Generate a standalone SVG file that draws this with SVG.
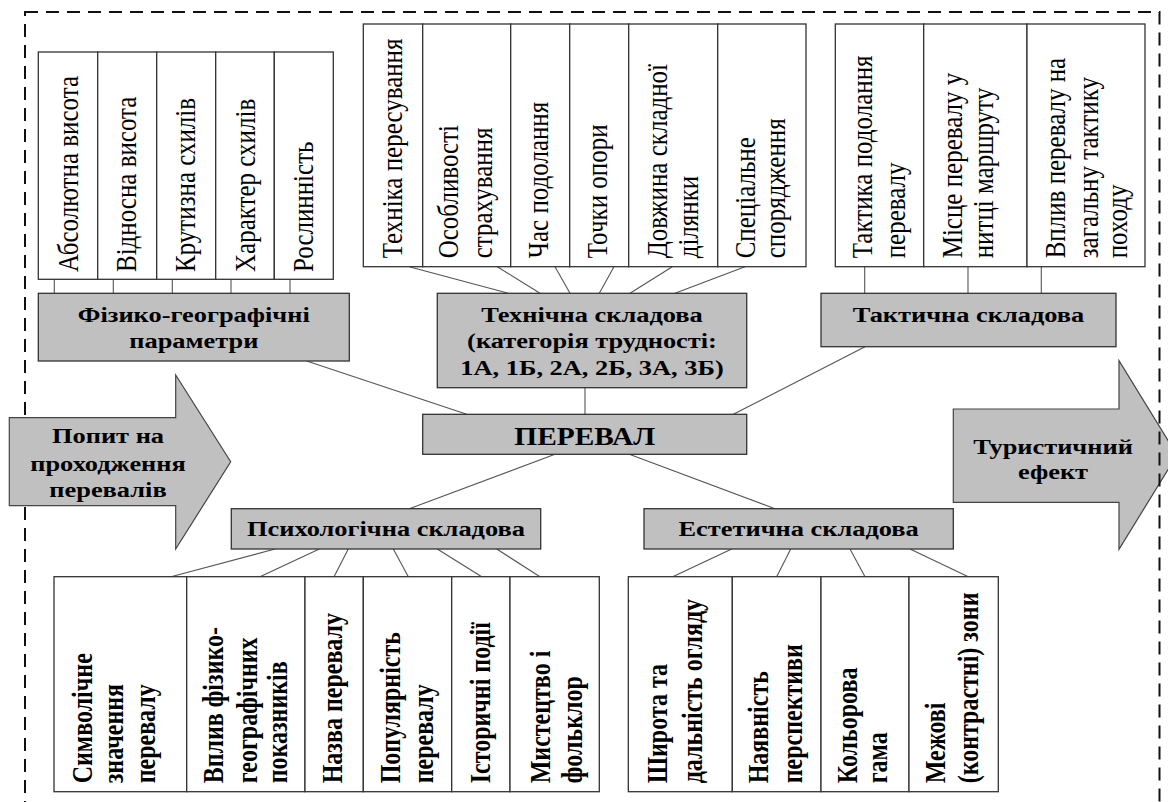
<svg xmlns="http://www.w3.org/2000/svg" width="1168" height="802" viewBox="0 0 1168 802">
<style>
.box{fill:#fff;stroke:#333;stroke-width:1.3}
.gbox{fill:#c0c0c0;stroke:#333;stroke-width:1.3}
.arr{fill:#c0c0c0;stroke:#444;stroke-width:1.2}
.c{stroke:#555;stroke-width:1.1;fill:none}
.t{font-family:"Liberation Serif","Times New Roman",serif;font-size:25px;fill:#000}
.tb{font-family:"Liberation Serif","Times New Roman",serif;font-size:24px;font-weight:bold;fill:#000}
.g{font-family:"Liberation Serif","Times New Roman",serif;font-size:22px;font-weight:bold;fill:#000;text-anchor:middle}
.border{fill:none;stroke:#111;stroke-width:2;stroke-dasharray:13 8}
</style>
<rect width="1168" height="802" fill="#fff"/>
<g id="arrow-effect">
<polygon class="arr" points="953.3,409 1119,409 1119,360.7 1177,455 1119,549.3 1119,502.3 953.3,502.3"/>
<text class="g" transform="translate(1053,454.3) scale(1.2,1)">Туристичний</text>
<text class="g" transform="translate(1053,479.3) scale(1.2,1)">ефект</text>
</g>
<rect id="frame" class="border" x="25" y="12" width="1134.5" height="810"/>
<g id="arrow-demand">
<polygon class="arr" points="9.3,417.7 175.7,417.7 175.7,375 230.7,461.7 175.7,549 175.7,505.7 9.3,505.7"/>
<text class="g" transform="translate(108,442.7) scale(1.2,1)">Попит на</text>
<text class="g" transform="translate(108,470.7) scale(1.2,1)">проходження</text>
<text class="g" transform="translate(108,497.3) scale(1.2,1)">перевалів</text>
</g>
<g id="connectors">
<line class="c" x1="54.3" y1="279.3" x2="54.3" y2="293.3"/>
<line class="c" x1="113.3" y1="279.3" x2="113.3" y2="293.3"/>
<line class="c" x1="172.3" y1="279.3" x2="172.3" y2="293.3"/>
<line class="c" x1="231" y1="279.3" x2="231" y2="293.3"/>
<line class="c" x1="290" y1="279.3" x2="290" y2="293.3"/>
<line class="c" x1="409.3" y1="266.7" x2="508.3" y2="293.3"/>
<line class="c" x1="497.3" y1="266.7" x2="540" y2="293.3"/>
<line class="c" x1="555" y1="266.7" x2="570" y2="293.3"/>
<line class="c" x1="614" y1="266.7" x2="599.3" y2="293.3"/>
<line class="c" x1="672.3" y1="266.7" x2="630" y2="293.3"/>
<line class="c" x1="745" y1="266.7" x2="675" y2="293.3"/>
<line class="c" x1="864.7" y1="266.7" x2="864.7" y2="293.3"/>
<line class="c" x1="968" y1="266.7" x2="968" y2="293.3"/>
<line class="c" x1="1041.3" y1="266.7" x2="1041.3" y2="293.3"/>
<line class="c" x1="306.7" y1="361" x2="466.7" y2="414.3"/>
<line class="c" x1="585" y1="387.7" x2="585" y2="414.3"/>
<line class="c" x1="865" y1="346.7" x2="733.3" y2="414.3"/>
<line class="c" x1="555" y1="454.3" x2="409.3" y2="508.7"/>
<line class="c" x1="629.3" y1="454.3" x2="775" y2="508.7"/>
<line class="c" x1="275" y1="549" x2="171" y2="576.7"/>
<line class="c" x1="319.3" y1="549" x2="260" y2="576.7"/>
<line class="c" x1="348.3" y1="549" x2="334" y2="576.7"/>
<line class="c" x1="393.3" y1="549" x2="408.3" y2="576.7"/>
<line class="c" x1="437.3" y1="549" x2="481.7" y2="576.7"/>
<line class="c" x1="496.7" y1="549" x2="540" y2="576.7"/>
<line class="c" x1="731.7" y1="549" x2="672.7" y2="576.7"/>
<line class="c" x1="790.7" y1="549" x2="776.7" y2="576.7"/>
<line class="c" x1="850" y1="549" x2="865" y2="576.7"/>
<line class="c" x1="910" y1="549" x2="968.3" y2="576.7"/>
</g>
<g id="phys-items">
<rect class="box" x="38.3" y="52" width="59.4" height="227.3"/>
<rect class="box" x="97.7" y="52" width="59" height="227.3"/>
<rect class="box" x="156.7" y="52" width="59" height="227.3"/>
<rect class="box" x="215.7" y="52" width="58.6" height="227.3"/>
<rect class="box" x="274.3" y="52" width="59" height="227.3"/>
<text class="t" transform="translate(78.3,272) scale(1.2,1) rotate(-90)">Абсолютна висота</text>
<text class="t" transform="translate(136,272) scale(1.2,1) rotate(-90)">Відносна висота</text>
<text class="t" transform="translate(195,272) scale(1.2,1) rotate(-90)">Крутизна схилів</text>
<text class="t" transform="translate(255,272) scale(1.2,1) rotate(-90)">Характер схилів</text>
<text class="t" transform="translate(313.3,272) scale(1.2,1) rotate(-90)">Рослинність</text>
</g>
<g id="phys">
<rect class="gbox" x="38.3" y="293.3" width="311" height="67.7"/>
<text class="g" transform="translate(193.8,321.7) scale(1.2,1)">Фізико-географічні</text>
<text class="g" transform="translate(193.8,348.3) scale(1.2,1)">параметри</text>
</g>
<g id="tech-items">
<rect class="box" x="363.3" y="24" width="59.4" height="242.7"/>
<rect class="box" x="422.7" y="24" width="88" height="242.7"/>
<rect class="box" x="510.7" y="24" width="59" height="242.7"/>
<rect class="box" x="569.7" y="24" width="59" height="242.7"/>
<rect class="box" x="628.7" y="24" width="89" height="242.7"/>
<rect class="box" x="717.7" y="24" width="88.3" height="242.7"/>
<text class="t" transform="translate(401.7,258.3) scale(1.2,1) rotate(-90)">Техніка пересування</text>
<text class="t" transform="translate(458.3,258.3) scale(1.2,1) rotate(-90)">Особливості</text>
<text class="t" transform="translate(491.7,258.3) scale(1.2,1) rotate(-90)">страхування</text>
<text class="t" transform="translate(548.3,258.3) scale(1.2,1) rotate(-90)">Час подолання</text>
<text class="t" transform="translate(606.7,258.3) scale(1.2,1) rotate(-90)">Точки опори</text>
<text class="t" transform="translate(666.7,258.3) scale(1.2,1) rotate(-90)">Довжина складної</text>
<text class="t" transform="translate(698.3,258.3) scale(1.2,1) rotate(-90)">ділянки</text>
<text class="t" transform="translate(755,258.3) scale(1.2,1) rotate(-90)">Спеціальне</text>
<text class="t" transform="translate(785,258.3) scale(1.2,1) rotate(-90)">спорядження</text>
</g>
<g id="tech">
<rect class="gbox" x="437.3" y="293.3" width="309.4" height="94.4"/>
<text class="g" transform="translate(592,321.7) scale(1.2,1)">Технічна складова</text>
<text class="g" transform="translate(592,348.3) scale(1.2,1)">(категорія трудності:</text>
<text class="g" transform="translate(592,375) scale(1.2,1)">1А, 1Б, 2А, 2Б, 3А, 3Б)</text>
</g>
<g id="tact-items">
<rect class="box" x="835.3" y="24" width="88.4" height="242.7"/>
<rect class="box" x="923.7" y="24" width="103.3" height="242.7"/>
<rect class="box" x="1027" y="24" width="118" height="242.7"/>
<text class="t" transform="translate(871.7,258.3) scale(1.2,1) rotate(-90)">Тактика подолання</text>
<text class="t" transform="translate(905,258.3) scale(1.2,1) rotate(-90)">перевалу</text>
<text class="t" transform="translate(961.7,258.3) scale(1.2,1) rotate(-90)">Місце перевалу у</text>
<text class="t" transform="translate(993.3,258.3) scale(1.2,1) rotate(-90)">нитці маршруту</text>
<text class="t" transform="translate(1065,258.3) scale(1.2,1) rotate(-90)">Вплив перевалу на</text>
<text class="t" transform="translate(1098.3,258.3) scale(1.2,1) rotate(-90)">загальну тактику</text>
<text class="t" transform="translate(1126.7,258.3) scale(1.2,1) rotate(-90)">походу</text>
</g>
<g id="tact">
<rect class="gbox" x="821" y="293.3" width="295" height="53.4"/>
<text class="g" transform="translate(968.5,321.7) scale(1.2,1)">Тактична складова</text>
</g>
<g id="pereval">
<rect class="gbox" x="422.7" y="414.3" width="324" height="40"/>
<text class="g" transform="translate(584.7,445) scale(1.2,1)" style="font-size:24.5px">ПЕРЕВАЛ</text>
</g>
<g id="psych">
<rect class="gbox" x="231.3" y="508.7" width="309.4" height="40.3"/>
<text class="g" transform="translate(386,535.7) scale(1.2,1)">Психологічна складова</text>
</g>
<g id="est">
<rect class="gbox" x="644" y="508.7" width="309.3" height="40.3"/>
<text class="g" transform="translate(798.6,535.7) scale(1.2,1)">Естетична складова</text>
</g>
<g id="psych-items">
<rect class="box" x="54" y="576.7" width="132.7" height="215"/>
<rect class="box" x="186.7" y="576.7" width="118.3" height="215"/>
<rect class="box" x="305" y="576.7" width="58.3" height="215"/>
<rect class="box" x="363.3" y="576.7" width="88.4" height="215"/>
<rect class="box" x="451.7" y="576.7" width="58.3" height="215"/>
<rect class="box" x="510" y="576.7" width="89.3" height="215"/>
<text class="tb" transform="translate(91.7,783.3) scale(1.2,1) rotate(-90)">Символічне</text>
<text class="tb" transform="translate(123.3,783.3) scale(1.2,1) rotate(-90)">значення</text>
<text class="tb" transform="translate(155,783.3) scale(1.2,1) rotate(-90)">перевалу</text>
<text class="tb" transform="translate(223.3,783.3) scale(1.2,1) rotate(-90)">Вплив фізико-</text>
<text class="tb" transform="translate(256.7,783.3) scale(1.2,1) rotate(-90)">географічних</text>
<text class="tb" transform="translate(286.7,783.3) scale(1.2,1) rotate(-90)">показників</text>
<text class="tb" transform="translate(341.7,783.3) scale(1.2,1) rotate(-90)">Назва перевалу</text>
<text class="tb" transform="translate(400,783.3) scale(1.2,1) rotate(-90)">Популярність</text>
<text class="tb" transform="translate(433.3,783.3) scale(1.2,1) rotate(-90)">перевалу</text>
<text class="tb" transform="translate(490,783.3) scale(1.2,1) rotate(-90)">Історичні події</text>
<text class="tb" transform="translate(550,783.3) scale(1.2,1) rotate(-90)">Мистецтво і</text>
<text class="tb" transform="translate(581.7,783.3) scale(1.2,1) rotate(-90)">фольклор</text>
</g>
<g id="est-items">
<rect class="box" x="628.3" y="576.7" width="104" height="215"/>
<rect class="box" x="732.3" y="576.7" width="88.7" height="215"/>
<rect class="box" x="821" y="576.7" width="88" height="215"/>
<rect class="box" x="909" y="576.7" width="89.3" height="215"/>
<text class="tb" transform="translate(666.7,783.3) scale(1.2,1) rotate(-90)">Широта та</text>
<text class="tb" transform="translate(701.7,783.3) scale(1.2,1) rotate(-90)">дальність огляду</text>
<text class="tb" transform="translate(768.3,783.3) scale(1.2,1) rotate(-90)">Наявність</text>
<text class="tb" transform="translate(801.7,783.3) scale(1.2,1) rotate(-90)">перспективи</text>
<text class="tb" transform="translate(856.7,783.3) scale(1.2,1) rotate(-90)">Кольорова</text>
<text class="tb" transform="translate(886.7,783.3) scale(1.2,1) rotate(-90)">гама</text>
<text class="tb" transform="translate(945,783.3) scale(1.2,1) rotate(-90)">Межові</text>
<text class="tb" transform="translate(978.3,783.3) scale(1.2,1) rotate(-90)">(контрастні) зони</text>
</g>
</svg>
